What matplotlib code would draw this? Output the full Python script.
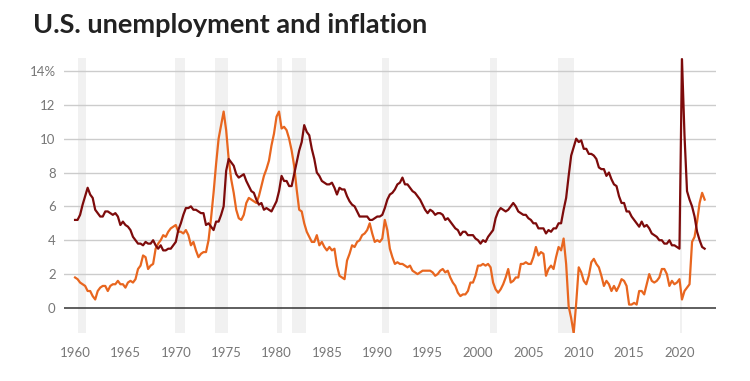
"""
U.S. unemployment rate and PCE inflation, 1960-2022
"""
import numpy as np
import matplotlib
matplotlib.use('Agg')
import matplotlib.pyplot as plt

# quarterly readings (Jan, Apr, Jul, Oct) starting 1960
unemployment = [
    5.2, 5.2, 5.5, 6.1,  6.6, 7.1, 6.7, 6.5,  5.8, 5.6, 5.4, 5.4,  5.7, 5.7, 5.6, 5.5,
    5.6, 5.4, 4.9, 5.1,  4.9, 4.8, 4.6, 4.2,  4.0, 3.8, 3.8, 3.7,  3.9, 3.8, 3.8, 4.0,
    3.7, 3.5, 3.7, 3.4,  3.4, 3.5, 3.5, 3.7,  3.9, 4.6, 5.0, 5.5,  5.9, 5.9, 6.0, 5.8,
    5.8, 5.7, 5.6, 5.6,  4.9, 5.0, 4.8, 4.6,  5.1, 5.1, 5.5, 6.0,  8.1, 8.8, 8.6, 8.4,
    7.9, 7.7, 7.8, 7.9,  7.5, 7.2, 6.9, 6.8,  6.4, 6.1, 6.2, 5.8,  5.9, 5.8, 5.7, 6.0,
    6.3, 6.9, 7.8, 7.5,  7.5, 7.2, 7.2, 7.9,  8.6, 9.3, 9.8, 10.8, 10.4, 10.2, 9.4, 8.8,
    8.0, 7.8, 7.5, 7.4,  7.3, 7.3, 7.4, 7.1,  6.7, 7.1, 7.0, 7.0,  6.6, 6.3, 6.1, 6.0,
    5.7, 5.4, 5.4, 5.4,  5.4, 5.2, 5.2, 5.3,  5.4, 5.4, 5.5, 5.9,  6.4, 6.7, 6.8, 7.0,
    7.3, 7.4, 7.7, 7.3,  7.3, 7.1, 6.9, 6.8,  6.6, 6.4, 6.1, 5.8,  5.6, 5.8, 5.7, 5.5,
    5.6, 5.6, 5.5, 5.2,  5.3, 5.1, 4.9, 4.7,  4.6, 4.3, 4.5, 4.5,  4.3, 4.3, 4.3, 4.1,
    4.0, 3.8, 4.0, 3.9,  4.2, 4.4, 4.6, 5.3,  5.7, 5.9, 5.8, 5.7,  5.8, 6.0, 6.2, 6.0,
    5.7, 5.6, 5.5, 5.5,  5.3, 5.2, 5.0, 5.0,  4.7, 4.7, 4.7, 4.4,  4.6, 4.5, 4.7, 4.7,
    5.0, 5.0, 5.8, 6.5,  7.8, 9.0, 9.5, 10.0, 9.8, 9.9, 9.4, 9.4,  9.1, 9.1, 9.0, 8.8,
    8.3, 8.2, 8.2, 7.8,  8.0, 7.6, 7.3, 7.2,  6.6, 6.2, 6.2, 5.7,  5.7, 5.4, 5.2, 5.0,
    4.8, 5.1, 4.8, 4.9,  4.7, 4.4, 4.3, 4.2,  4.0, 4.0, 3.8, 3.8,  4.0, 3.7, 3.7, 3.6,
    3.5, 14.7, 10.2, 6.9, 6.4, 6.0, 5.4, 4.5, 4.0, 3.6, 3.5,
]
inflation = [
    1.8, 1.7, 1.5, 1.4,  1.3, 1.0, 1.0, 0.7,  0.5, 1.0, 1.2, 1.3,  1.3, 1.0, 1.3, 1.4,
    1.4, 1.6, 1.4, 1.4,  1.2, 1.5, 1.6, 1.5,  1.7, 2.3, 2.5, 3.1,  3.0, 2.3, 2.5, 2.6,
    3.5, 3.8, 4.0, 4.3,  4.2, 4.5, 4.7, 4.8,  4.9, 4.5, 4.5, 4.4,  4.6, 4.3, 3.7, 3.9,
    3.4, 3.0, 3.2, 3.3,  3.3, 4.0, 5.3, 6.8,  8.5, 10.0, 10.8, 11.6, 10.5, 8.8, 7.6, 6.8,
    5.8, 5.3, 5.2, 5.5,  6.2, 6.5, 6.4, 6.3,  6.2, 6.6, 7.2, 7.8,  8.2, 8.7, 9.6, 10.3,
    11.3, 11.6, 10.6, 10.7, 10.5, 10.0, 9.3, 8.4, 7.0, 5.8, 5.7, 5.0, 4.5, 4.2, 3.9, 3.9,
    4.3, 3.7, 3.9, 3.6,  3.4, 3.6, 3.4, 3.5,  2.5, 1.9, 1.8, 1.7,  2.8, 3.2, 3.7, 3.6,
    3.9, 4.0, 4.3, 4.4,  4.6, 5.0, 4.4, 3.9,  4.0, 3.9, 4.1, 5.2,  4.6, 3.5, 3.0, 2.6,
    2.7, 2.6, 2.6, 2.5,  2.4, 2.5, 2.2, 2.1,  2.0, 2.1, 2.2, 2.2,  2.2, 2.2, 2.1, 1.9,
    2.0, 2.2, 2.3, 2.1,  2.2, 1.8, 1.5, 1.3,  0.9, 0.7, 0.8, 0.8,  1.0, 1.5, 1.5, 1.9,
    2.5, 2.5, 2.6, 2.5,  2.6, 2.4, 1.5, 1.1,  0.9, 1.1, 1.4, 1.8,  2.3, 1.5, 1.6, 1.8,
    1.8, 2.6, 2.6, 2.7,  2.6, 2.6, 3.0, 3.6,  3.1, 3.3, 3.2, 1.9,  2.3, 2.5, 2.3, 3.0,
    3.6, 3.4, 4.1, 2.6,  0.1, -0.6, -1.5, 0.3, 2.4, 2.1, 1.6, 1.4,  1.9, 2.7, 2.9, 2.6,
    2.4, 1.9, 1.3, 1.6,  1.4, 1.0, 1.3, 1.0,  1.3, 1.7, 1.6, 1.3,  0.2, 0.2, 0.3, 0.2,
    1.0, 1.0, 0.8, 1.4,  2.0, 1.6, 1.5, 1.6,  1.8, 2.3, 2.3, 2.0,  1.3, 1.6, 1.4, 1.5,
    1.7, 0.5, 1.0, 1.2,  1.4, 3.9, 4.2, 5.1,  6.2, 6.8, 6.4,
]
dates = 1960 + np.arange(len(unemployment)) / 4

recessions = [(1960.3, 1961.1), (1969.9, 1970.9), (1973.9, 1975.2), (1980.0, 1980.5),
              (1981.5, 1982.9), (1990.5, 1991.2), (2001.2, 2001.9), (2007.9, 2009.5),
              (2020.1, 2020.3)]

year_ticks = list(range(1960, 2021, 5))
y_ticks = [0, 2, 4, 6, 8, 10, 12, 14]

fig = plt.figure(figsize=(7.5, 3.81), dpi=100)
ax = fig.add_axes([0.0853, 0.126, 0.869, 0.722])

for start, end in recessions:
    ax.axvspan(start, end, color='#f1f1f1', lw=0, zorder=0)

for v in y_ticks[1:]:
    ax.axhline(v, color='#cccccc', lw=1.0, zorder=1)
ax.axhline(0, color='#333333', lw=1.1, zorder=1)

ax.plot(dates, inflation, color='#e8661f', lw=1.6, zorder=3)
ax.plot(dates, unemployment, color='#7d0b0b', lw=1.6, zorder=4)

ax.set_xlim(1958.9, 2023.6)
ax.set_ylim(-1.48, 14.77)
ax.set_xticks(year_ticks)
ax.set_yticks(y_ticks)
ax.set_yticklabels([str(v) if v != 14 else '14%' for v in y_ticks])
ax.tick_params(length=0, labelsize=9.5, labelcolor='#777777', pad=6)
ax.tick_params(axis='x', pad=10)
for lab in ax.get_xticklabels() + ax.get_yticklabels():
    lab.set_family('Lato')
for s in ax.spines.values():
    s.set_visible(False)

fig.text(0.044, 0.935, 'U.S. unemployment and inflation', fontsize=19.5,
         fontweight='bold', family='Lato', color='#222222', va='center')

fig.savefig('out.png', dpi=100)
plt.close(fig)
